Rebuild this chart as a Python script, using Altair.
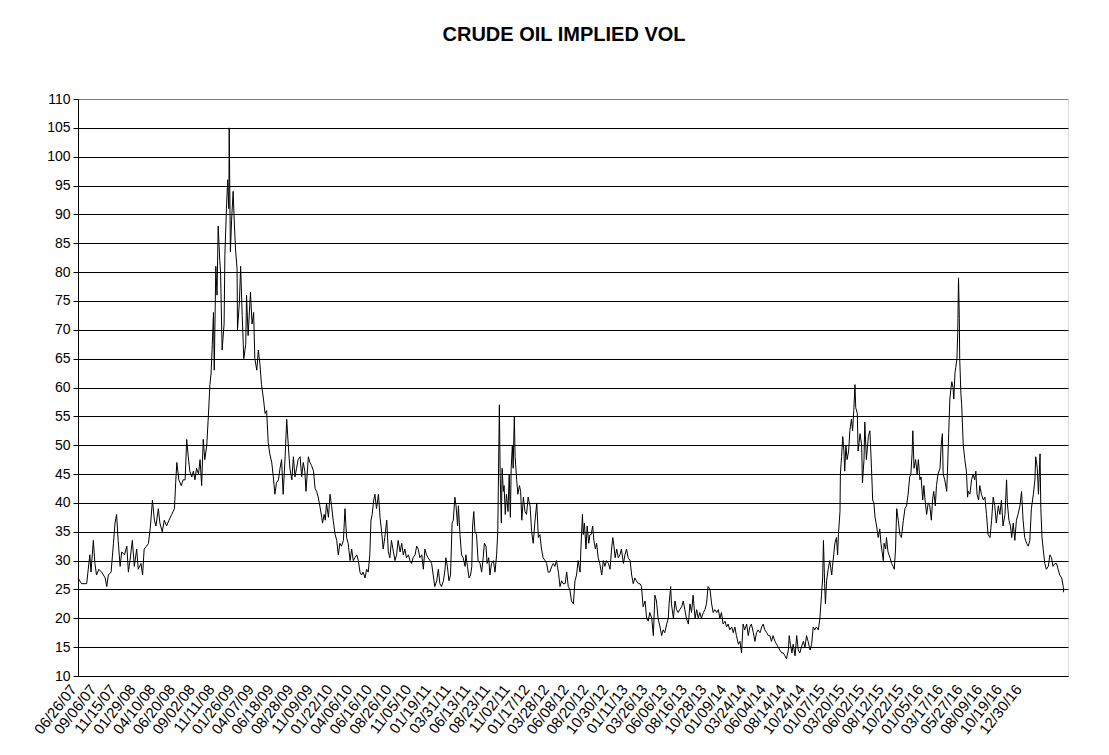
import altair as alt
import pandas as pd

# trading-day index (from 06/26/07) and implied vol readings
day = [0, 9, 22, 26, 30, 33, 39, 43, 47, 53, 60, 69, 73, 77, 84, 90, 94, 98, 102, 107,
       111, 118, 124, 128, 132, 138, 143, 149, 153, 160, 164, 168, 174, 179, 184, 189, 194, 198, 204, 208,
       214, 219, 225, 231, 238, 245, 248, 251, 256, 262, 267, 272, 276, 280, 284, 289, 293, 297, 301, 306,
       310, 314, 318, 322, 327, 331, 335, 338, 341, 344, 346, 350, 353, 356, 360, 362, 366, 371, 373, 377,
       380, 383, 384, 387, 390, 394, 397, 400, 404, 405, 410, 413, 417, 421, 426, 428, 432, 438, 442, 446,
       449, 454, 458, 462, 466, 471, 475, 479, 483, 487,
       492, 496, 500, 504, 509, 513, 517, 521, 526, 530, 534, 538, 543, 547, 551, 555, 559, 564, 568, 572,
       576, 579, 585, 589, 593, 598, 602, 606, 610, 614, 619, 621, 625, 628, 631, 636, 640, 644, 648, 653,
       657, 661, 665, 669, 674, 678, 682, 686, 691, 695, 699, 703, 708, 712, 716, 720, 724, 729, 733, 737,
       741, 744, 747, 751, 754, 758, 763, 767, 771, 775, 779, 784, 788, 792, 796, 801, 805, 809, 813, 818,
       822, 826, 830, 834, 839, 843, 847, 851, 856, 860, 864, 868, 873, 877, 881, 885, 889, 894, 898, 902,
       906, 911, 915, 919, 923, 928, 932, 934, 938, 942, 946, 950, 953, 957, 960, 964, 966, 970,
       974, 978, 983, 985, 989, 993, 997, 1000, 1002, 1005, 1008, 1012, 1016, 1021, 1025, 1029, 1032, 1036, 1039, 1043,
       1046, 1050, 1055, 1059, 1063, 1066, 1068, 1070, 1072, 1075, 1077, 1080, 1082, 1085, 1088, 1092, 1095, 1098, 1100, 1103,
       1105, 1108, 1110, 1114, 1117, 1121, 1124, 1127, 1131, 1135, 1139, 1143, 1148, 1152, 1156, 1160, 1165, 1169, 1173, 1177,
       1181, 1186, 1190, 1194, 1198, 1203, 1207, 1211, 1215, 1220, 1224, 1228, 1232, 1237, 1241, 1245, 1249, 1253, 1258, 1262,
       1266, 1270, 1275, 1277, 1281, 1283, 1286, 1290, 1293, 1297, 1300, 1303, 1307, 1310, 1314, 1317, 1321, 1325, 1330, 1334,
       1338, 1342, 1347, 1351, 1355, 1358, 1361, 1364, 1368, 1372, 1376, 1380, 1385, 1389, 1393, 1397, 1402, 1406, 1410, 1414,
       1418, 1423, 1427, 1431, 1435, 1440, 1444, 1448, 1452,
       1457, 1461, 1465, 1469, 1473, 1478, 1482, 1486, 1490, 1495, 1499, 1501, 1505, 1507, 1512, 1516, 1520, 1524, 1528, 1533,
       1537, 1541, 1545, 1550, 1554, 1558, 1562, 1567, 1571, 1575, 1579, 1583, 1588, 1592, 1596, 1600, 1605, 1609, 1613, 1617,
       1622, 1626, 1630, 1634, 1638, 1643, 1647, 1651, 1655, 1660, 1664, 1668, 1672, 1677, 1681, 1685, 1689, 1693, 1698, 1702,
       1706, 1710, 1715, 1719, 1723, 1727, 1732, 1736, 1740, 1744, 1749, 1753, 1757, 1761, 1765, 1770, 1774, 1778, 1782, 1787,
       1791, 1795, 1799, 1804, 1806, 1809, 1813, 1816, 1821, 1825, 1829, 1833, 1837, 1842, 1846, 1850, 1854, 1859, 1863, 1867,
       1871, 1875, 1880, 1884, 1888, 1891, 1893, 1896, 1898, 1901, 1905, 1909, 1914, 1916, 1919, 1922, 1926, 1929, 1931, 1935,
       1936, 1939, 1942, 1945, 1947, 1950, 1953, 1957, 1960, 1964, 1967, 1970, 1973, 1975, 1979, 1981,
       1986, 1990, 1992, 1996, 1998, 2002, 2007, 2011, 2015, 2018, 2021, 2024, 2028, 2032, 2036, 2039, 2042, 2045, 2047, 2051,
       2053, 2057, 2062, 2066, 2070, 2073, 2076, 2079, 2083, 2087, 2091, 2096, 2100, 2104, 2108, 2112, 2115, 2118, 2120, 2123,
       2127, 2131, 2134, 2138, 2141, 2145, 2148, 2151, 2155, 2159, 2163, 2167, 2170, 2173, 2177, 2180, 2184, 2189, 2192, 2195,
       2197, 2201, 2206, 2208, 2211, 2214, 2217, 2219, 2222, 2224, 2227, 2229, 2232, 2234, 2236, 2238, 2239, 2242, 2244, 2248,
       2252, 2256, 2259, 2261, 2265, 2269, 2273, 2277, 2280, 2283, 2287, 2290, 2294, 2299, 2303, 2307, 2311, 2316, 2320, 2324,
       2328, 2332, 2337, 2341, 2345, 2349, 2354, 2358, 2360, 2364, 2368, 2371, 2375, 2379, 2383, 2387, 2392, 2396, 2400, 2404,
       2409, 2413, 2417, 2421, 2426, 2430, 2432, 2436, 2439, 2443, 2445, 2448, 2451, 2455, 2459, 2464, 2468, 2472, 2476, 2481,
       2485, 2489, 2493, 2498, 2502, 2503]

vol = [27, 26, 26, 28.5, 31, 28, 33.5, 29.5, 27.5, 28.5, 28, 27, 25.5, 27.5, 28, 33, 36.5, 38, 33.5, 29,
       31.5, 31, 32.5, 28, 30, 33.5, 29, 32, 28.5, 29.5, 27.5, 32, 32.5, 33, 36, 40.5, 37, 36, 39, 36.5,
       35, 37, 36, 37, 38, 39, 43.5, 47, 44, 43, 44, 44, 51, 48, 45.5, 44.5, 45.5, 44, 46, 45,
       47.5, 43, 51, 47.5, 50, 55, 60.5, 62.5, 67.5, 73, 63, 81, 76, 88, 82, 80, 66.5, 71, 83, 91,
       96, 91, 105, 83.5, 89, 94, 88.5, 84, 80.5, 70, 75, 81, 72.5, 65, 67.5, 76, 69, 76.5, 71, 73,
       65, 63, 66.5, 64, 60.5, 58, 55.5, 56, 50.5, 48.5,
       47, 44.5, 41.5, 43.5, 44, 46, 47.5, 41.5, 48, 54.5, 50, 46, 44, 48, 44.5, 46, 47.5, 48, 44.5, 47,
       45.5, 42, 48, 47, 46.5, 45.5, 42.5, 42, 41, 39.5, 37.5, 36.5, 38, 37, 40, 37.5, 41.5, 39.5, 37, 34.5,
       33.5, 31, 33, 32.5, 33.5, 39, 34, 33, 30, 32, 30, 30.5, 31, 30, 28, 27.5, 28, 27, 28.5, 28,
       31, 37, 38, 40.5, 41.5, 39, 41.5, 37.5, 35, 32, 34, 37, 31.5, 30.5, 33.5, 31.5, 30, 31, 33.5, 31.5,
       33, 31, 32, 30.5, 31, 30, 29.5, 30.5, 31, 32.5, 32, 30.5, 31, 28.5, 32, 31, 30.5, 30, 29.5, 27.5,
       25.5, 26.5, 28.5, 26, 25.5, 26.5, 28.5, 30.5, 29, 26.5, 27.5, 36.5, 37, 41, 39.5, 36, 39.5, 34.5,
       31, 30.5, 29, 31, 29, 27, 27.5, 29, 36, 38.5, 35, 34.5, 30, 29.5, 28, 30.5, 33, 32.5, 29.5, 30.5,
       27.5, 29.5, 30, 28, 31, 35, 46, 57, 45, 36.5, 46, 42, 43, 38, 41.5, 38.5, 45, 37.5, 46, 50,
       46, 55, 48, 44, 41.5, 43, 42, 37, 41, 38.5, 38, 41, 39.5, 35, 33, 36.5, 40, 34, 34.5, 32,
       30.5, 30, 29.5, 28, 28, 29, 29.5, 29, 30, 28, 25.5, 26.5, 26, 26, 28, 25.5, 25, 23, 22.5, 26.5,
       27.5, 30, 28, 32, 38, 34.5, 36.5, 32, 36, 33, 34.5, 34.5, 36, 33.5, 32, 33, 30.5, 29.5, 27.5, 30,
       29, 30, 29.5, 28.5, 32, 34, 32.5, 30.5, 32, 30.5, 31, 32, 29.5, 31, 32, 30.5, 30, 27.5, 26, 27,
       26.5, 26, 26, 25.5, 22, 23, 20, 19.5, 21,
       20, 17, 24, 23, 20, 18.5, 17, 18, 17.5, 19, 20, 22.5, 25.5, 22.5, 20, 23, 21.5, 21, 21.5, 22,
       23, 21.5, 20, 19, 22.5, 21, 24, 20, 21.5, 20, 21, 20, 21, 21.5, 22.5, 25.5, 25, 22.5, 21, 21.5,
       21, 21.5, 20, 21, 19, 19.5, 18.5, 19, 18, 18.5, 17.5, 18.5, 17, 15.5, 16, 14, 19, 18, 19, 17,
       18.5, 19, 17.5, 16, 17.5, 18, 17.5, 18.5, 19, 18, 17.5, 17, 17, 16, 17, 16, 15.5, 15, 14.5, 14,
       14, 13.5, 13, 14.5, 17, 15.5, 14, 15.5, 13.5, 17, 14.5, 14, 15, 16, 15, 17, 16, 14.5, 15.5, 18.5,
       18, 18.5, 18, 20, 24, 27, 33.5, 26, 22.5, 26.5, 28.5, 30, 27.5, 29, 31, 33, 34, 31, 34.5, 38.5,
       45, 48, 51.5, 49, 45.5, 50, 47.5, 49, 52.5, 54.5, 52.5, 56, 60.5, 56.5, 55.5, 49,
       52, 50, 43.5, 47.5, 54, 47.5, 51.5, 52.5, 46, 40.5, 40, 37.5, 36, 34, 35.5, 33, 31.5, 30, 33, 32,
       34, 31.5, 30.5, 29.5, 29, 28.5, 32, 39, 37, 34.5, 34, 37, 39, 39.5, 41.5, 44.5, 45, 48.5, 52.5, 46,
       47.5, 45, 47.5, 44, 44.5, 40.5, 43, 40.5, 38, 40, 39.5, 37, 40.5, 42, 39.5, 43, 45, 46, 50, 52,
       45, 44, 42, 45.5, 52, 58, 60, 61, 60, 58, 62.5, 63.5, 65, 69.5, 79, 72, 65, 59, 57, 50,
       47.5, 45.5, 41, 42, 41.5, 44, 45, 44, 45.5, 41.5, 40.5, 43, 41.5, 40.5, 41, 38, 34.5, 34, 37, 41,
       39.5, 36.5, 39.5, 38, 40.5, 36, 38, 44, 40, 37, 36, 34, 36.5, 33.5, 37, 38, 39.5, 42, 37, 34,
       33, 32.5, 33.5, 39, 41.5, 44, 48, 46, 41.5, 48.5, 39, 34, 32, 29.5, 28.5, 29, 31, 30.5, 29, 29.5,
       29.5, 28.5, 27.5, 27, 25.5, 24.5]

tick_labels = ["06/26/07", "09/06/07", "11/15/07", "01/29/08", "04/10/08", "06/20/08", "09/02/08",
               "11/11/08", "01/26/09", "04/07/09", "06/18/09", "08/28/09", "11/09/09", "01/22/10",
               "04/06/10", "06/16/10", "08/26/10", "11/05/10", "01/19/11", "03/31/11", "06/13/11",
               "08/23/11", "11/02/11", "01/17/12", "03/28/12", "06/08/12", "08/20/12", "10/30/12",
               "01/11/13", "03/26/13", "06/06/13", "08/16/13", "10/28/13", "01/09/14", "03/24/14",
               "06/04/14", "08/14/14", "10/24/14", "01/07/15", "03/20/15", "06/02/15", "08/12/15",
               "10/22/15", "01/05/16", "03/17/16", "05/27/16", "08/09/16", "10/19/16", "12/30/16"]
tick_days = [50 * k for k in range(len(tick_labels))]
y_ticks = list(range(10, 111, 5))

df = pd.DataFrame({"day": day, "vol": vol})

label_array = "[" + ",".join("'" + t + "'" for t in tick_labels) + "]"
FONT = "Liberation Sans"

chart = alt.Chart(df).mark_line(color="black", strokeWidth=1, interpolate="linear").encode(
    x=alt.X("day:Q",
            scale=alt.Scale(domain=[0, 2514], nice=False, zero=False),
            axis=alt.Axis(values=tick_days, title=None, grid=False, ticks=False,
                          labelExpr=label_array + "[round(datum.value/50)]",
                          labelAngle=-52, labelAlign="right", labelBaseline="middle",
                          labelFont=FONT, labelFontSize=15, labelColor="black",
                          labelPadding=10, labelOffset=-5, labelOverlap=False, labelFlush=False,
                          domainColor="black", domainWidth=1)),
    y=alt.Y("vol:Q",
            scale=alt.Scale(domain=[10, 110], nice=False, zero=False),
            axis=alt.Axis(values=y_ticks, title=None, grid=True,
                          gridColor=alt.condition("datum.value === 110", alt.value("#808080"), alt.value("black")),
                          gridWidth=1, gridOpacity=1,
                          tickColor="black", tickSize=5, tickWidth=1,
                          labelFont=FONT, labelFontSize=14, labelColor="black", labelPadding=3,
                          domainColor="black", domainWidth=1)),
).properties(
    width=990,
    height=577,
    title=alt.TitleParams("CRUDE OIL IMPLIED VOL", font=FONT, fontSize=20, fontWeight="bold",
                          color="black", anchor="middle", frame="group", offset=47, dx=-9),
    autosize=alt.AutoSizeParams(type="none"),
    padding={"left": 70, "top": 91, "right": 20, "bottom": 70},
).configure_view(
    stroke="#808080", strokeWidth=1
).configure(background="white")

chart.save("out.html", embed_options={"renderer": "svg", "actions": False})
